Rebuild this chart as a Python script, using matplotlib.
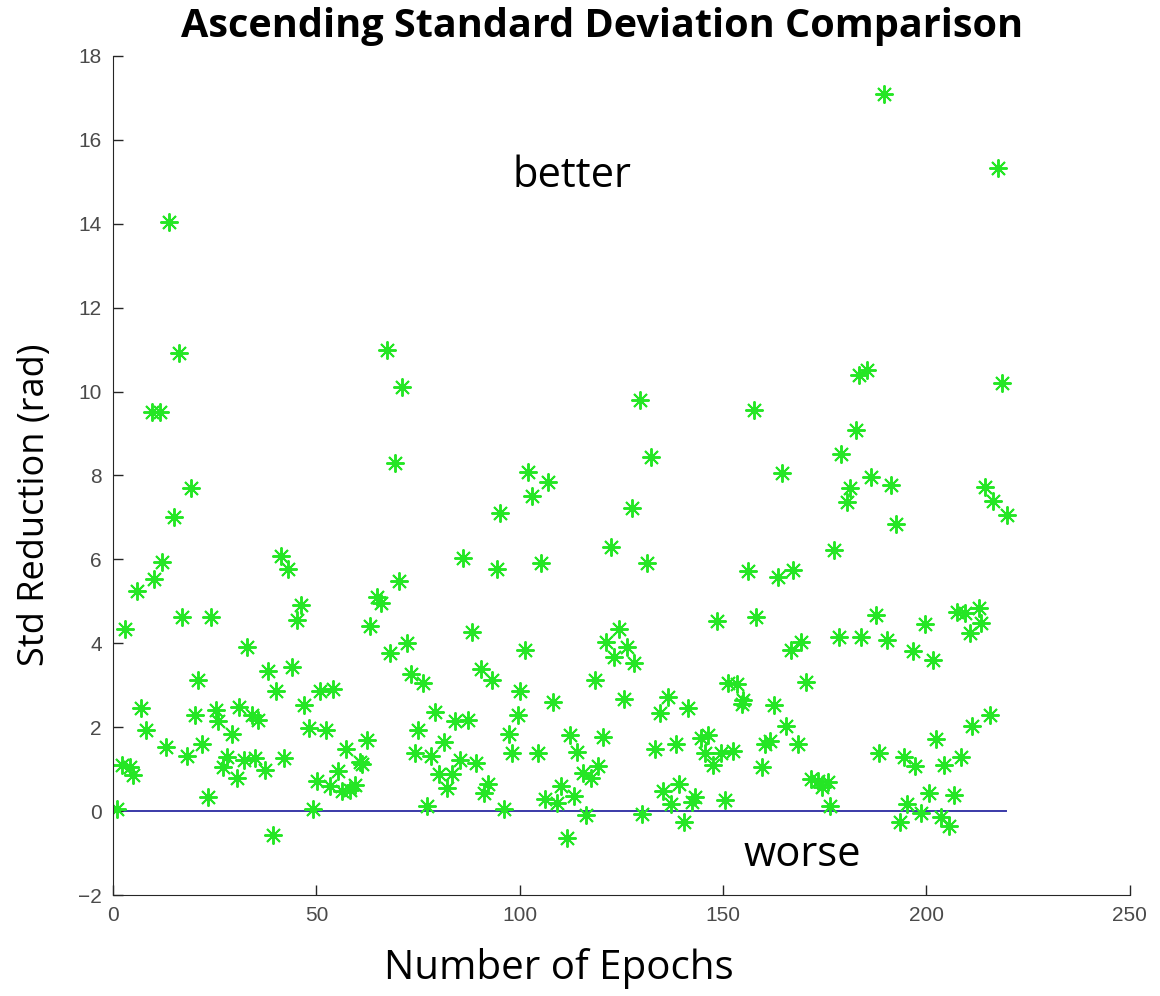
import matplotlib.pyplot as plt

# epoch index and std reduction for each run
epochs = [0.9, 2.3, 2.95, 4.2, 5.0, 6.0, 6.9, 8.0, 9.5, 10.1, 11.5, 12.0, 13.0, 13.8, 15.0,
          16.2, 17.0, 18.1, 19.1, 20.2, 21.0, 22.0, 23.3, 24.1, 25.3, 25.9, 27.1, 28.0,
          29.2, 30.4, 31.0, 32.3, 33.0, 34.1, 34.9, 35.7,
          37.4, 38.0, 39.4, 40.0, 41.3, 42.1, 43.1, 43.9, 45.2, 46.2, 47.0, 48.2, 49.1,
          50.1, 50.9, 52.3, 53.3, 54.2, 55.2, 56.4, 57.2, 58.3, 59.5, 60.7, 61.3, 62.4,
          63.2, 65.0, 66.0, 67.4, 68.1, 69.3, 70.4, 71.1, 72.3,
          73.3, 74.2, 75.1, 76.3, 77.1, 78.3, 79.2, 80.1, 81.4, 82.0, 83.4, 84.2, 85.3,
          86.1, 87.4, 88.2, 89.2, 90.5, 91.1, 92.3, 93.2, 94.3, 95.2, 96.2, 97.3, 98.2,
          99.5, 100.0, 101.4, 102.1, 103.1, 104.4, 105.2, 106.2, 107.0, 108.3, 109.2,
          110.1, 111.5, 112.3, 113.4, 114.2, 115.6, 116.2, 117.5, 118.5, 119.3, 120.4,
          121.2, 122.4, 123.2, 124.4, 125.6, 126.3, 127.5, 128.2, 129.6, 130.1, 131.3,
          132.2, 133.2, 134.5, 135.3, 136.4, 137.2, 138.3, 139.1, 140.4, 141.4, 142.4,
          143.1, 144.6,
          145.5, 146.2, 147.4, 148.6, 149.5, 150.4, 151.3, 152.5, 153.3, 154.6, 155.0,
          156.2, 157.6, 158.2, 159.5, 160.3, 161.5, 162.6, 163.4, 164.5, 165.4, 166.6,
          167.2, 168.5, 169.2, 170.4, 171.6, 173.4, 174.4, 175.9, 176.3, 177.3, 178.6,
          179.1, 180.5, 181.3, 182.6, 183.4, 184.0, 185.3, 186.3, 187.5, 188.3, 189.6,
          190.3, 191.4, 192.6, 193.5, 194.5, 195.3, 196.6, 197.3, 198.6, 199.6, 200.6,
          201.5, 202.3, 203.6, 204.4, 205.6, 206.7, 207.4, 208.6, 209.5, 210.7, 211.3,
          212.8, 213.5, 214.4, 215.7, 216.4, 217.7, 218.5, 219.7]
std_reduction = [0.04, 1.11, 4.33, 1.06, 0.86, 5.25, 2.45, 1.93, 9.52, 5.54, 9.52, 5.94, 1.53,
                 14.05, 7.0, 10.91, 4.63, 1.31, 7.69, 2.29, 3.12, 1.61, 0.34, 4.63, 2.41,
                 2.15, 1.06, 1.28, 1.84, 0.78, 2.49, 1.22, 3.92, 2.29, 1.26, 2.17,
                 0.98, 3.34, -0.57, 2.86, 6.08, 1.26, 5.77, 3.44, 4.55, 4.91, 2.53, 1.98,
                 0.06, 0.72, 2.86, 1.93, 0.60, 2.9, 0.96, 0.48, 1.49, 0.50, 0.62, 1.18,
                 1.13, 1.70, 4.41, 5.11, 4.95, 11.0, 3.76, 8.29, 5.48, 10.1, 4.0,
                 3.28, 1.38, 1.93, 3.06, 0.12, 1.31, 2.37, 0.88, 1.65, 0.56, 0.88, 2.15,
                 1.22, 6.04, 2.18, 4.26, 1.15, 3.38, 0.42, 0.64, 3.12, 5.77, 7.10, 0.04,
                 1.84, 1.38, 2.30, 2.86, 3.84, 8.09, 7.51, 1.38, 5.92, 0.30, 7.85, 2.61,
                 0.20,
                 0.60, -0.63, 1.82, 0.37, 1.40, 0.90, -0.10, 0.78, 3.12, 1.08, 1.77, 4.04,
                 6.30, 3.68, 4.35, 2.67, 3.92, 7.22, 3.52, 9.80, -0.06, 5.92, 8.43, 1.47,
                 2.33, 0.48, 2.71, 0.17, 1.61, 0.64, -0.25, 2.45, 0.22, 0.34, 1.75,
                 1.39, 1.81, 1.10, 4.53, 1.39, 0.26, 3.06, 1.44, 3.02, 2.55, 2.65, 5.73,
                 9.56, 4.63, 1.06, 1.61, 1.67, 2.53, 5.57, 8.05, 2.03, 3.84, 5.74, 1.61,
                 4.04, 3.08, 0.76, 0.72, 0.58, 0.70, 0.12, 6.22, 4.16, 8.51, 7.37, 7.69,
                 9.08, 10.39, 4.16, 10.51, 7.97, 4.67, 1.39, 17.1, 4.09, 7.77, 6.84,
                 -0.25, 1.28, 0.17, 3.81, 1.07, -0.04, 4.46, 0.42, 3.61, 1.73, -0.15,
                 1.11, -0.36, 0.38, 4.75, 1.28, 4.72, 4.25, 2.03, 4.85, 4.49, 7.73, 2.29,
                 7.40, 15.34, 10.21, 7.06]

baseline_x = [0, 219.5]
baseline_y = [0, 0]

x_ticks = [0, 50, 100, 150, 200, 250]
y_ticks = [-2, 0, 2, 4, 6, 8, 10, 12, 14, 16, 18]

label_font = 'Open Sans'
tick_font = 'Liberation Sans'

fig = plt.figure(figsize=(11.6, 9.96), dpi=100)
ax = fig.add_axes([0.0974, 0.1014, 0.8766, 0.8424])

ax.plot(baseline_x, baseline_y, color='#3a3aa8', lw=1.4, zorder=1)
ax.plot(epochs, std_reduction, linestyle='none', marker=(8, 2, 0), markersize=13,
        markeredgewidth=1.4, color='#25e625', zorder=2)

ax.set_xlim(0, 250)
ax.set_ylim(-2, 18)
ax.set_xticks(x_ticks)
ax.set_yticks(y_ticks)
ax.tick_params(direction='in', length=7, width=1, labelsize=15, colors='#262626',
               labelcolor='#4a4a4a', pad=8)
for lbl in ax.get_xticklabels() + ax.get_yticklabels():
    lbl.set_family(tick_font)
for side in ('top', 'right'):
    ax.spines[side].set_visible(False)
for side in ('left', 'bottom'):
    ax.spines[side].set_color('#262626')

fig.text(602 / 1160, 1 - 27 / 996, 'Ascending Standard Deviation Comparison',
         fontsize=28.5, fontweight='bold', family=label_font, ha='center', va='center')
fig.text(35 / 1160, 1 - 505 / 996, 'Std Reduction (rad)', fontsize=26, family=label_font,
         rotation=90, ha='center', va='center')
fig.text(559 / 1160, 1 - 968 / 996, 'Number of Epochs', fontsize=29, family=label_font,
         ha='center', va='center')

ax.text(112.8, 15.15, 'better', fontsize=30, family=label_font, ha='center', va='center')
ax.text(169.4, -1.05, 'worse', fontsize=30, family=label_font, ha='center', va='center')

fig.savefig('out.png', dpi=100)
